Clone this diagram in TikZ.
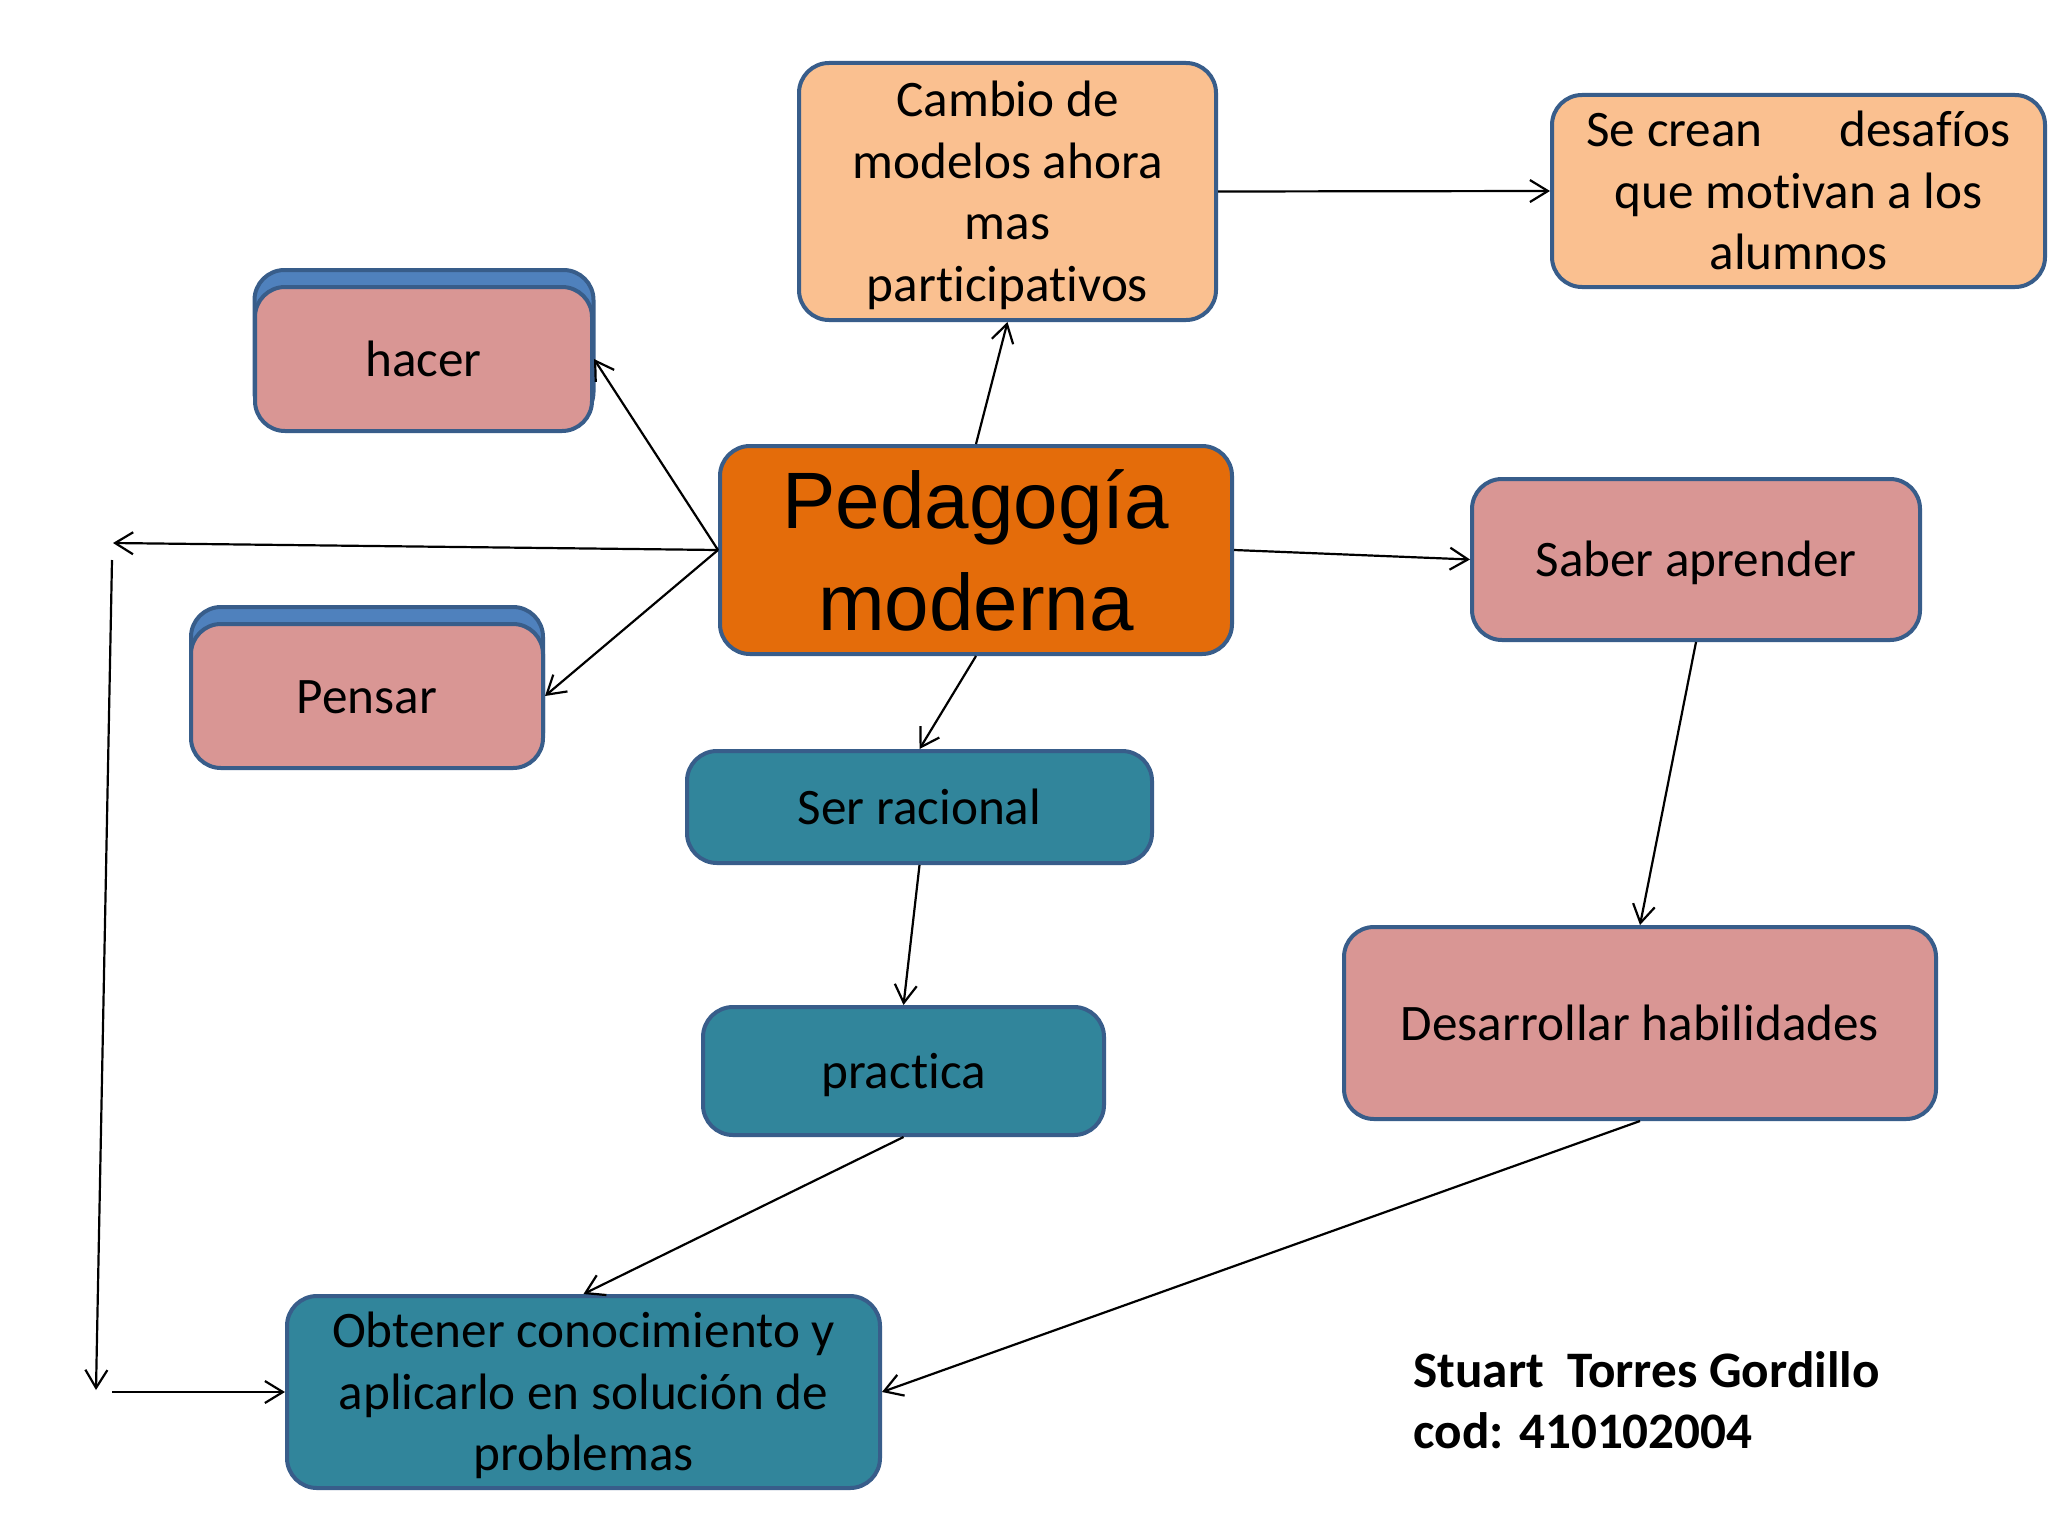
\documentclass[tikz,border=0pt]{standalone}
\usepackage{fontspec}
\setmainfont{Carlito}[Ligatures=NoCommon]
\newfontfamily\arialfont{Liberation Sans}
\usetikzlibrary{arrows.meta}
\definecolor{bordercol}{RGB}{56,93,138}
\definecolor{lightorange}{RGB}{250,192,144}
\definecolor{pinkfill}{RGB}{217,150,148}
\definecolor{tealfill}{RGB}{49,133,155}
\definecolor{orangefill}{RGB}{228,108,10}
\definecolor{shadowblue}{RGB}{79,129,189}
\newcommand{\bxt}[1]{\raisebox{-2.5pt}[\height][\depth]{\begin{tabular}{@{}c@{}}#1\end{tabular}}}
\tikzset{
  boxstyle/.style={draw=bordercol, line width=2pt, rounded corners=15pt,
    inner sep=0pt, align=center, font=\fontsize{25.6}{30.8}\selectfont},
  conn/.style={line width=1.1pt, -{Straight Barb[length=9pt,width=11pt]}},
}
\begin{document}
\begin{tikzpicture}[x=0.5pt,y=-0.5pt]
\useasboundingbox[fill=white] (0,0) rectangle (2048,1536);

% back shadow boxes
\node[boxstyle, fill=shadowblue, minimum width=169.5pt, minimum height=76pt] (hacerbg) at (424,346) {};
\node[boxstyle, fill=shadowblue, minimum width=176pt, minimum height=78pt] (pensarbg) at (367,685) {};

% nodes
\node[boxstyle, fill=lightorange, minimum width=208.5pt, minimum height=128.5pt] (cambio) at (1007.5,191.5)
  {\bxt{Cambio de\\modelos ahora\\mas\\participativos}};
\node[boxstyle, fill=lightorange, minimum width=246.5pt, minimum height=96pt] (secrean) at (1798.5,191)
  {\bxt{Se crean\hspace{1.5em}desafíos\\que motivan a los\\alumnos}};
\node[boxstyle, fill=pinkfill, minimum width=168.5pt, minimum height=72pt] (hacer) at (423.5,359) {\bxt{hacer}};
\node[boxstyle, fill=orangefill, minimum width=256pt, minimum height=104pt,
  font=\arialfont\fontsize{40}{51}\selectfont] (ped) at (976,550) {Pedagogía\\moderna};
\node[boxstyle, fill=pinkfill, minimum width=176pt, minimum height=72pt] (pensar) at (367,696) {\bxt{Pensar}};
\node[boxstyle, fill=pinkfill, minimum width=224pt, minimum height=80.5pt] (saber) at (1696,559.5) {\bxt{Saber aprender}};
\node[boxstyle, fill=tealfill, minimum width=232.5pt, minimum height=56pt] (ser) at (919.5,807) {\bxt{Ser racional}};
\node[boxstyle, fill=tealfill, minimum width=200.5pt, minimum height=64pt] (practica) at (903.5,1071) {\bxt{practica}};
\node[boxstyle, fill=pinkfill, minimum width=296pt, minimum height=96pt] (desarrollar) at (1640,1023) {\bxt{Desarrollar habilidades}};
\node[boxstyle, fill=tealfill, minimum width=296.5pt, minimum height=96pt] (obtener) at (583.5,1392)
  {\bxt{Obtener conocimiento y\\aplicarlo en solución de\\problemas}};

\node[anchor=north west, align=left, inner sep=0pt, font=\bfseries\fontsize{25.6}{30.5}\selectfont] (autor) at (1413,1351)
  {Stuart\ \ Torres Gordillo\\cod: 410102004};

% free ends
\coordinate (lefttip) at (113,543);
\coordinate (vtop) at (112,560);
\coordinate (vbot) at (96,1390);
\coordinate (hstart) at (112,1392);

% connectors
\draw[conn] (ped.north) -- (cambio.south);
\draw[conn] (cambio.east) -- (secrean.west);
\draw[conn] (ped.west) -- (hacer.east);
\draw[conn] (ped.west) -- (lefttip);
\draw[conn] (ped.west) -- (pensar.east);
\draw[conn] (ped.east) -- (saber.west);
\draw[conn] (ped.south) -- (ser.north);
\draw[conn] (ser.south) -- (practica.north);
\draw[conn] (saber.south) -- (desarrollar.north);
\draw[conn] (practica.south) -- (obtener.north);
\draw[conn] (desarrollar.south) -- (obtener.east);
\draw[conn] (vtop) -- (vbot);
\draw[conn] (hstart) -- (obtener.west);
\end{tikzpicture}
\end{document}
